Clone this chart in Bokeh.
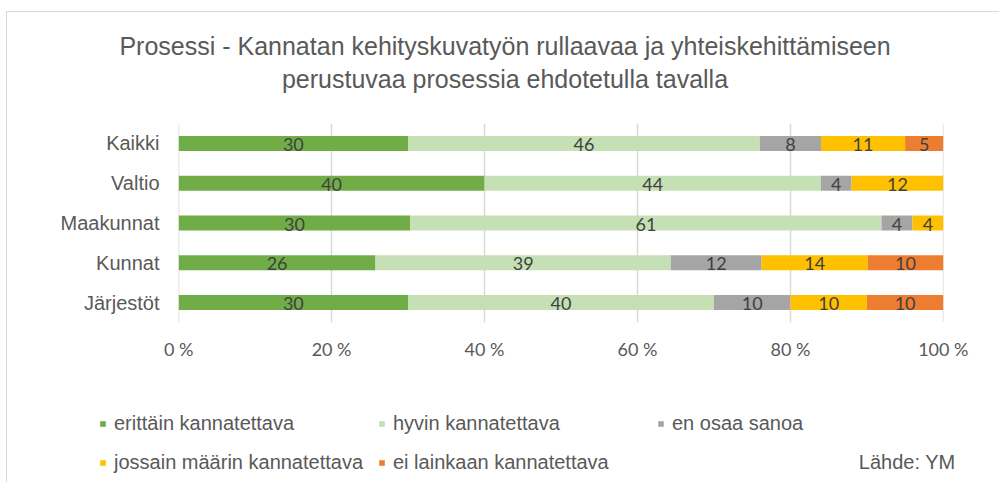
from bokeh.plotting import figure
from bokeh.layouts import column
from bokeh.models import (FactorRange, Range1d, FixedTicker, Legend, LegendItem,
                          Label, ColumnDataSource)
from bokeh.embed import file_html
from bokeh.resources import INLINE
from bokeh.core.properties import value

# ---- data ----
categories = ["Kaikki", "Valtio", "Maakunnat", "Kunnat", "Järjestöt"]
series_names = ["erittäin kannatettava", "hyvin kannatettava", "en osaa sanoa",
                "jossain määrin kannatettava", "ei lainkaan kannatettava"]
erittain = [30, 40, 30, 26, 30]
hyvin = [46, 44, 61, 39, 40]
en_osaa = [8, 4, 4, 12, 10]
jossain = [11, 12, 4, 14, 10]
ei_lainkaan = [5, 0, 0, 10, 10]
colors = ["#70AD47", "#C5E0B4", "#A5A5A5", "#FFC000", "#ED7D31"]
x_ticks = [0, 20, 40, 60, 80, 100]
x_tick_labels = ["0 %", "20 %", "40 %", "60 %", "80 %", "100 %"]
title_text = ("Prosessi - Kannatan kehityskuvatyön  rullaavaa ja yhteiskehittämiseen\n"
              "perustuvaa prosessia ehdotetulla  tavalla")
source_note = "Lähde: YM"

series = [erittain, hyvin, en_osaa, jossain, ei_lainkaan]
keys = ["s0", "s1", "s2", "s3", "s4"]
totals = [sum(s[i] for s in series) for i in range(len(categories))]

data = {"cat": categories}
for k, s in zip(keys, series):
    data[k] = [v / t * 100 for v, t in zip(s, totals)]
src = ColumnDataSource(data)

# label positions
lx, ly, lt = [], [], []
for i, cat in enumerate(categories):
    left = 0.0
    for k, s in zip(keys, series):
        w = data[k][i]
        if s[i] > 0:
            lx.append(left + w / 2)
            ly.append(cat)
            lt.append(str(s[i]))
        left += w
lab_src = ColumnDataSource(dict(x=lx, y=ly, text=lt))

GRAY_TXT = "#595959"
BORDER = "1px solid #D9D9D9"

# ---------- main chart ----------
p = figure(width=993, height=358,
           x_range=Range1d(-0.02, 100.02),
           y_range=FactorRange(*categories[::-1]),
           output_backend="svg", toolbar_location=None,
           min_border_left=171, min_border_right=57,
           min_border_top=111, min_border_bottom=48,
           margin=(11, 0, 0, 6),
           styles={"border-left": BORDER, "border-top": BORDER})
p.frame_align = False
p.outline_line_color = None
p.background_fill_color = "white"
p.border_fill_color = "white"

rs = p.hbar_stack(keys, y="cat", height=0.377, color=colors, line_color=None, source=src)

p.text(x="x", y="y", text="text", source=lab_src, text_align="center",
       text_baseline="middle", y_offset=1, text_font=value("Lato"),
       text_font_size="18px", text_color="#404040")

p.xaxis.ticker = FixedTicker(ticks=x_ticks)
p.xaxis.major_label_overrides = {t: l for t, l in zip(x_ticks, x_tick_labels)}
for ax in (p.xaxis, p.yaxis):
    ax.axis_line_color = None
    ax.major_tick_line_color = None
    ax.minor_tick_line_color = None
    ax.major_tick_out = 0
    ax.major_tick_in = 0
    ax.minor_tick_out = 0
    ax.minor_tick_in = 0
    ax.major_label_text_color = GRAY_TXT
p.xaxis.major_label_text_font = "Lato"
p.xaxis.major_label_text_font_size = "18px"
p.xaxis.major_label_standoff = 15
p.yaxis.major_label_text_font = "Liberation Sans"
p.yaxis.major_label_text_font_size = "20px"
p.yaxis.major_label_standoff = 19

p.xgrid.ticker = FixedTicker(ticks=x_ticks)
p.xgrid.grid_line_color = "#D9D9D9"
p.xgrid.grid_line_width = 1.5
p.ygrid.grid_line_color = None

p.add_layout(Label(x=330, y=61, x_units="screen", y_units="screen",
                   text=title_text, text_align="center", text_baseline="middle",
                   text_font="Liberation Sans", text_font_size="25px",
                   text_line_height=1.2, text_color=GRAY_TXT), "above")

# ---------- legend strip ----------
lg = figure(width=993, height=113, x_range=Range1d(0, 1), y_range=Range1d(0, 1),
            output_backend="svg", toolbar_location=None,
            x_axis_type=None, y_axis_type=None,
            min_border=0, min_border_left=0, min_border_right=0,
            min_border_top=0, min_border_bottom=0,
            margin=(0, 0, 0, 6), styles={"border-left": BORDER})
lg.frame_align = False
lg.outline_line_color = None
lg.xgrid.visible = False
lg.ygrid.visible = False
# legend keys (zero-size proxies carrying each series' colour)
proxies = [lg.hbar(y=[0], left=[0], right=[0], height=0, color=c, line_color=None)
           for c in colors]

legend = Legend(items=[LegendItem(label=n, renderers=[r]) for n, r in zip(series_names, proxies)],
                location=(92, 0.5), orientation="horizontal", ncols=3,
                glyph_width=7, glyph_height=7, label_standoff=8,
                label_width=264, label_height=39, spacing=0, padding=0, margin=0,
                label_text_font="Liberation Sans", label_text_font_size="20px",
                label_text_color=GRAY_TXT, border_line_color=None,
                background_fill_alpha=0)
lg.add_layout(legend)

lg.add_layout(Label(x=948, y=21, x_units="screen", y_units="screen",
                    text=source_note, text_align="right", text_baseline="middle",
                    text_font="Liberation Sans", text_font_size="20px",
                    text_color=GRAY_TXT))

layout = column(p, lg, spacing=0)
open("out.html", "w").write(file_html(layout, INLINE))
